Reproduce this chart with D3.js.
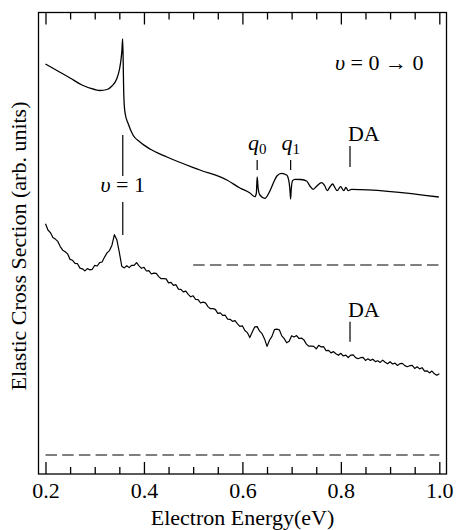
<!DOCTYPE html>
<html lang="en">
  <head>
    <meta charset="UTF-8" />
    <script src="https://d3js.org/d3.v7.min.js"></script>
    <title>Elastic Cross Section</title>
    <style type="text/css">
      body {
        margin: 0;
        background: #fff;
      }
      text {
        font-family: 'Liberation Serif', 'Times New Roman', serif;
        fill: #000;
      }
      .tick text {
        font-size: 22px;
      }
      .axis-label,
      .note {
        font-size: 22px;
      }
    </style>
  </head>
  <body>
    <svg width="457" height="530"></svg>
  </body>
  <script type="text/javascript">
    // theory curve (v = 0 -> 0), energy in eV, cross section in arb. units
    const theoryEnergy = [
      0.2, 0.225, 0.25, 0.274, 0.3, 0.311, 0.325, 0.335, 0.3446, 0.35, 0.3533, 0.3553, 0.3567, 0.3578, 0.3586, 0.36,
      0.3624, 0.3675, 0.3777, 0.3919, 0.4122, 0.4467, 0.5137, 0.5685, 0.595, 0.6153, 0.6254, 0.6284, 0.63, 0.6319,
      0.6355, 0.6457, 0.6538, 0.6626, 0.6701, 0.6796, 0.6898, 0.6944, 0.6969, 0.6979, 0.6991, 0.7019, 0.7066, 0.7188,
      0.7304, 0.7371, 0.7438, 0.7513, 0.7608, 0.7675, 0.7722, 0.7777, 0.7832, 0.7878, 0.7925, 0.7994, 0.8061, 0.8102,
      0.8148, 0.8217, 0.999,
    ];
    const theoryValue = [
      3.91, 3.84, 3.77, 3.7, 3.655, 3.645, 3.655, 3.69, 3.76, 3.85, 3.95, 4.05, 4.16, 3.95, 3.7, 3.5, 3.4, 3.32, 3.2,
      3.13, 3.06, 2.98, 2.85, 2.75, 2.67, 2.62, 2.583, 2.62, 2.78, 2.67, 2.6, 2.567, 2.62, 2.717, 2.79, 2.817, 2.8, 2.74,
      2.63, 2.56, 2.65, 2.743, 2.757, 2.755, 2.74, 2.69, 2.657, 2.69, 2.723, 2.69, 2.643, 2.68, 2.71, 2.675, 2.643, 2.683,
      2.643, 2.677, 2.643, 2.657, 2.58,
    ];

    // measured curve, sampled every 5 meV from 0.2 to 1.0 eV
    const measuredStart = 0.2;
    const measuredStep = 0.005;
    const measuredValue = [
      2.312, 2.25, 2.224, 2.175, 2.159, 2.136, 2.084, 2.048, 2.033, 2.011, 1.956, 1.947, 1.916, 1.913, 1.869, 1.862,
      1.841, 1.864, 1.852, 1.857, 1.897, 1.89, 1.924, 1.93, 1.979, 2.021, 2.044, 2.098, 2.203, 2.151, 2.026, 1.887,
      1.871, 1.893, 1.874, 1.897, 1.896, 1.924, 1.892, 1.867, 1.877, 1.84, 1.844, 1.81, 1.819, 1.816, 1.784, 1.763,
      1.763, 1.761, 1.721, 1.727, 1.696, 1.703, 1.659, 1.657, 1.631, 1.639, 1.607, 1.582, 1.592, 1.555, 1.554, 1.52,
      1.529, 1.521, 1.484, 1.463, 1.463, 1.456, 1.416, 1.422, 1.396, 1.398, 1.359, 1.357, 1.336, 1.344, 1.312, 1.287,
      1.292, 1.245, 1.224, 1.175, 1.229, 1.281, 1.284, 1.238, 1.213, 1.161, 1.086, 1.147, 1.186, 1.253, 1.259, 1.252,
      1.191, 1.164, 1.122, 1.137, 1.192, 1.18, 1.194, 1.165, 1.169, 1.151, 1.109, 1.088, 1.088, 1.086, 1.061, 1.097,
      1.081, 1.083, 1.044, 1.047, 1.021, 1.034, 1.012, 0.997, 1.017, 0.99, 0.999, 0.975, 0.999, 1.001, 0.974, 0.963,
      0.973, 0.976, 0.946, 0.962, 0.946, 0.958, 0.934, 0.942, 0.926, 0.949, 0.927, 0.912, 0.932, 0.91, 0.919, 0.895,
      0.914, 0.916, 0.894, 0.883, 0.893, 0.896, 0.866, 0.882, 0.861, 0.873, 0.839, 0.842, 0.821, 0.839, 0.812, 0.797,
      0.812,
    ];

    // dashed zero levels: [from eV, to eV, level]
    const baselines = [
      [0.5, 1.0, 1.9],
      [0.2, 1.0, 0.0],
    ];

    // marker lines: [eV, top, bottom]
    const markers = [
      [0.357, 3.2, 2.79],
      [0.357, 2.53, 2.2],
      [0.63, 2.95, 2.85],
      [0.698, 2.95, 2.85],
      [0.8186, 3.09, 2.88],
      [0.8186, 1.333, 1.133],
    ];

    const xMajorTicks = [0.2, 0.4, 0.6, 0.8, 1.0];
    const xMinorTicks = [0.25, 0.3, 0.35, 0.45, 0.5, 0.55, 0.65, 0.7, 0.75, 0.85, 0.9, 0.95];

    // ---

    (() => {
      const svg = d3.select('svg');
      const frame = { left: 38.5, right: 446.5, top: 12.5, bottom: 474 };

      const xScale = d3.scaleLinear().domain([0.1858, 1.0146]).range([frame.left, frame.right]);
      const yScale = d3.scaleLinear().domain([-0.19, 4.425]).range([frame.bottom, frame.top]);

      const line = d3
        .line()
        .x((d) => xScale(d[0]))
        .y((d) => yScale(d[1]));

      // dashed zero lines
      svg
        .append('g')
        .selectAll('line')
        .data(baselines)
        .enter()
        .append('line')
        .attr('x1', (d) => xScale(d[0]))
        .attr('x2', (d) => xScale(d[1]))
        .attr('y1', (d) => yScale(d[2]))
        .attr('y2', (d) => yScale(d[2]))
        .attr('stroke', '#555')
        .attr('stroke-width', 1.5)
        .attr('stroke-dasharray', '11.5,5.2');

      // theory curve
      const theoryData = theoryEnergy.map((e, i) => [e, theoryValue[i]]);
      svg
        .append('path')
        .datum(theoryData)
        .attr('fill', 'none')
        .attr('stroke', '#000')
        .attr('stroke-width', 1.3)
        .attr('d', line.curve(d3.curveMonotoneX));

      // measured curve
      const measuredData = measuredValue.map((v, i) => [measuredStart + i * measuredStep, v]);
      svg
        .append('path')
        .datum(measuredData)
        .attr('fill', 'none')
        .attr('stroke', '#000')
        .attr('stroke-width', 1.2)
        .attr('stroke-linejoin', 'round')
        .attr('d', line.curve(d3.curveLinear));

      // marker lines
      svg
        .append('g')
        .selectAll('line')
        .data(markers)
        .enter()
        .append('line')
        .attr('x1', (d) => xScale(d[0]))
        .attr('x2', (d) => xScale(d[0]))
        .attr('y1', (d) => yScale(d[1]))
        .attr('y2', (d) => yScale(d[2]))
        .attr('stroke', '#000')
        .attr('stroke-width', 1.2);

      // frame
      svg
        .append('rect')
        .attr('x', frame.left)
        .attr('y', frame.top)
        .attr('width', frame.right - frame.left)
        .attr('height', frame.bottom - frame.top)
        .attr('fill', 'none')
        .attr('stroke', '#000')
        .attr('stroke-width', 1.3);

      // ticks, pointing inward on bottom and top
      const bottomMajor = d3
        .axisBottom(xScale)
        .tickValues(xMajorTicks)
        .tickSize(-12)
        .tickPadding(8)
        .tickFormat(d3.format('.1f'));
      const bottomMinor = d3.axisBottom(xScale).tickValues(xMinorTicks).tickSize(-7).tickFormat('');
      const topMajor = d3.axisTop(xScale).tickValues(xMajorTicks).tickSize(-12).tickFormat('');
      const topMinor = d3.axisTop(xScale).tickValues(xMinorTicks).tickSize(-7).tickFormat('');

      [
        [bottomMajor, frame.bottom],
        [bottomMinor, frame.bottom],
        [topMajor, frame.top],
        [topMinor, frame.top],
      ].forEach(([axis, y]) => {
        const g = svg.append('g').attr('transform', `translate(0, ${y})`).call(axis);
        g.select('.domain').remove();
        g.selectAll('.tick line').attr('stroke', '#000').attr('stroke-width', 1.3);
        g.attr('font-family', null).attr('font-size', null);
      });

      // axis labels
      svg
        .append('text')
        .attr('class', 'axis-label')
        .attr('x', (frame.left + frame.right) / 2)
        .attr('y', 525)
        .attr('text-anchor', 'middle')
        .text('Electron Energy(eV)');

      svg
        .append('text')
        .attr('class', 'axis-label')
        .attr('transform', 'translate(26, 246) rotate(-90)')
        .attr('text-anchor', 'middle')
        .text('Elastic Cross Section (arb. units)');

      // annotations
      const vLabel = svg
        .append('text')
        .attr('class', 'note')
        .attr('x', xScale(0.357))
        .attr('y', yScale(2.63))
        .attr('text-anchor', 'middle');
      vLabel.append('tspan').attr('font-style', 'italic').text('υ');
      vLabel.append('tspan').text(' = 1');

      const transLabel = svg
        .append('text')
        .attr('class', 'note')
        .attr('x', xScale(0.788))
        .attr('y', yScale(3.85));
      transLabel.append('tspan').attr('font-style', 'italic').text('υ');
      transLabel.append('tspan').text(' = 0 → 0');

      [
        ['0', 0.63],
        ['1', 0.698],
      ].forEach(([sub, e]) => {
        const t = svg
          .append('text')
          .attr('class', 'note')
          .attr('x', xScale(e))
          .attr('y', yScale(3.05))
          .attr('text-anchor', 'middle');
        t.append('tspan').attr('font-style', 'italic').text('q');
        t.append('tspan').attr('font-size', '15px').attr('dy', 4).text(sub);
      });

      [3.14, 1.385].forEach((v) => {
        svg.append('text').attr('class', 'note').attr('x', xScale(0.8145)).attr('y', yScale(v)).text('DA');
      });
    })();
  </script>
</html>
